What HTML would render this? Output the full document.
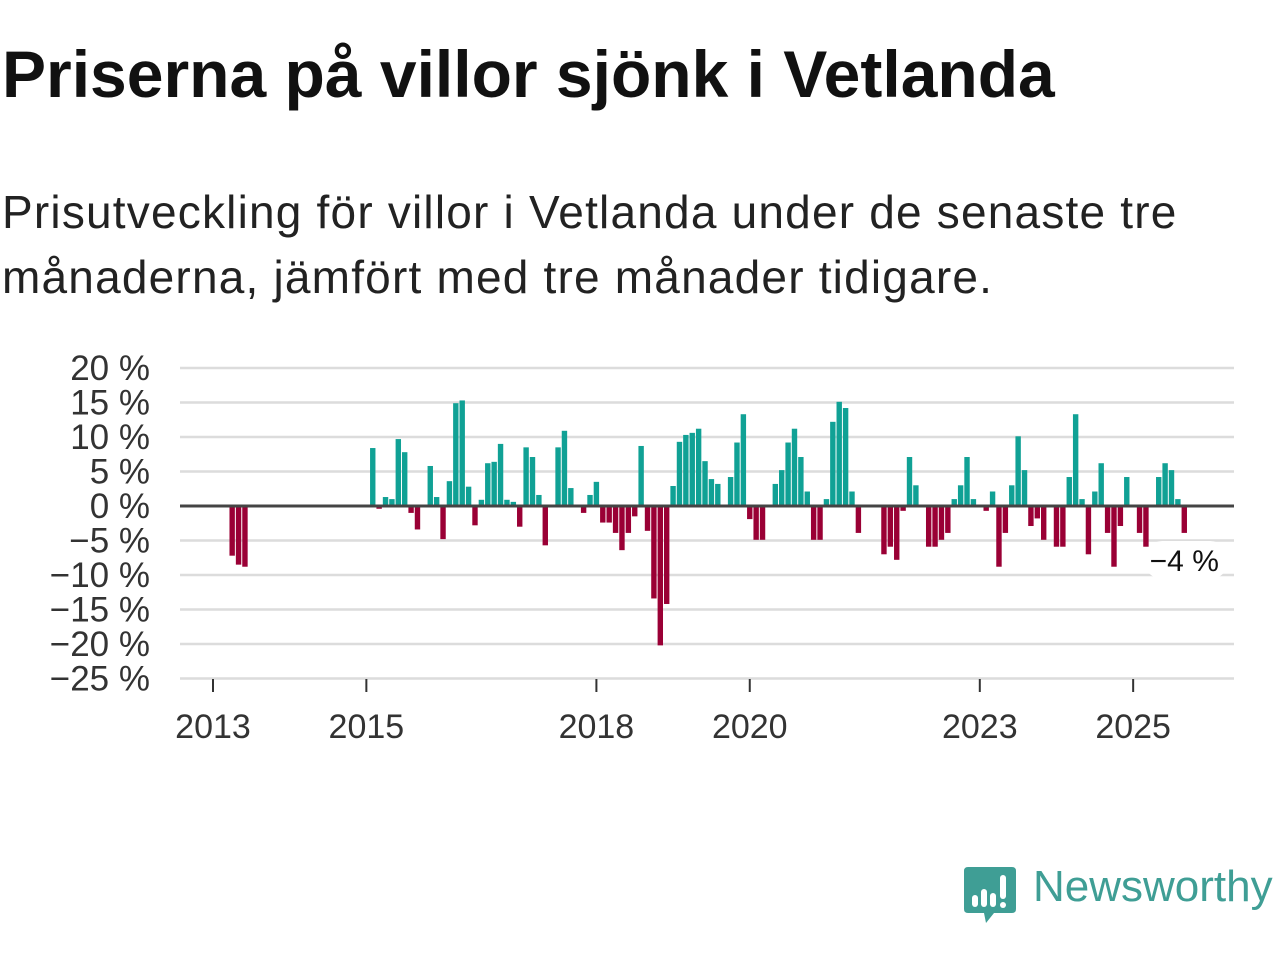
<!DOCTYPE html>
<html><head><meta charset="utf-8"><style>
body{margin:0;width:1280px;height:960px;background:#fff;overflow:hidden;font-family:"Liberation Sans","DejaVu Sans",sans-serif;}
#title{position:absolute;left:2px;top:36px;font-size:66px;line-height:76px;font-weight:bold;color:#111;margin:0;white-space:nowrap}
#sub{position:absolute;left:2px;top:180px;font-size:46px;line-height:65px;letter-spacing:1.2px;color:#222;margin:0;width:1230px}
svg{position:absolute;left:0;top:0}
</style></head><body>
<h1 id="title">Priserna på villor sjönk i Vetlanda</h1>
<p id="sub">Prisutveckling för villor i Vetlanda under de senaste tre månaderna, jämfört med tre månader tidigare.</p>
<svg id="chart" width="1280" height="960"></svg>
<script>
const startYear = 2013;
const values = [null,null,null,-7.2,-8.5,-8.8,
null,null,null,null,null,null,null,null,null,null,null,null,null,null,null,null,null,null,null,
8.4,-0.4,1.3,1.0,9.7,7.8,-1.0,-3.4,null,5.8,1.3,-4.8,3.6,14.9,15.3,2.8,-2.8,0.9,6.2,6.4,9.0,0.9,0.6,-3.0,8.5,7.1,1.6,-5.7,null,8.5,10.9,2.6,null,-1.0,1.6,3.5,-2.4,-2.4,-3.9,-6.4,-3.9,-1.5,8.7,-3.6,-13.4,-20.2,-14.2,2.9,9.3,10.3,10.6,11.2,6.5,3.9,3.2,null,4.2,9.2,13.3,-1.9,-4.9,-4.9,null,3.2,5.2,9.2,11.2,7.1,2.1,-4.9,-4.9,1.0,12.2,15.1,14.2,2.1,-3.9,null,null,null,-7.0,-5.9,-7.8,-0.7,7.1,3.0,null,-5.9,-5.9,-4.9,-3.9,1.0,3.0,7.1,1.0,null,-0.7,2.1,-8.8,-3.9,3.0,10.1,5.2,-2.9,-1.8,-4.9,null,-5.9,-5.9,4.2,13.3,1.0,-7.0,2.1,6.2,-3.9,-8.8,-2.9,4.2,null,-3.9,-5.9,null,4.2,6.2,5.2,1.0,-3.9];
const yTicks = [20,15,10,5,0,-5,-10,-15,-20,-25];
const yearTicks = [2013,2015,2018,2020,2023,2025];
const lastLabel = "−4 %";

const NS="http://www.w3.org/2000/svg";
const svg=document.getElementById('chart');
const x=m=>213+m*6.39;
const y=v=>506-v*6.9;
function mk(t,a){const e=document.createElementNS(NS,t);for(const k in a)e.setAttribute(k,a[k]);svg.appendChild(e);return e;}
yTicks.forEach(v=>{
  const g=mk('line',{x1:180,x2:1234,y1:y(v),y2:y(v),stroke:'#dcdcdc','stroke-width':2.5});
  
  
  const t=mk('text',{x:150,y:y(v)+12,'text-anchor':'end','font-size':35,fill:'#333','font-family':'"Liberation Sans",sans-serif'});
  t.textContent=(v<0?'−'+(-v):v)+' %';
  
  
});
yearTicks.forEach(yr=>{
  const px=x((yr-startYear)*12);
  const l=mk('line',{x1:px,x2:px,y1:679,y2:692,stroke:'#333','stroke-width':2});
  
  
  const t=mk('text',{x:px,y:738,'text-anchor':'middle','font-size':34,fill:'#333','font-family':'"Liberation Sans",sans-serif'});
  t.textContent=yr;
  
  
});
values.forEach((v,i)=>{
  if(v===null)return;
  const r=mk('rect',{x:x(i)-2.7,width:5.4,y:Math.min(y(v),506),height:Math.abs(y(v)-506),fill:v>=0?'#10a195':'#9a0035'});
  
  
});
const base=mk('line',{x1:180,x2:1234,y1:506,y2:506,stroke:'#444','stroke-width':3});


const li=values.length-1;
const bg=mk('rect',{x:x(li)-40,y:541,width:84,height:38,rx:18,fill:'#fff'});


const lt=mk('text',{x:x(li),y:571,'text-anchor':'middle','font-size':30,fill:'#111','font-family':'"Liberation Sans",sans-serif'});
lt.textContent=lastLabel;


</script>
<svg width="60" height="64" style="left:964px;top:865px">
<path d="M4 2 H48 Q52 2 52 6 V44 Q52 48 48 48 H30 L22 58 L20 48 H4 Q0 48 0 44 V6 Q0 2 4 2Z" fill="#3f9e95"/>
<rect x="8" y="30" width="6" height="12" rx="3" fill="#fff"/><rect x="17" y="24" width="6" height="18" rx="3" fill="#fff"/><rect x="26" y="28" width="6" height="14" rx="3" fill="#fff"/><rect x="36" y="10" width="6" height="24" rx="3" fill="#fff"/><circle cx="39" cy="40" r="3" fill="#fff"/>
</svg>
<div style="position:absolute;left:1033px;top:862px;font-size:44px;color:#3f9e95;">Newsworthy</div>
</body></html>
